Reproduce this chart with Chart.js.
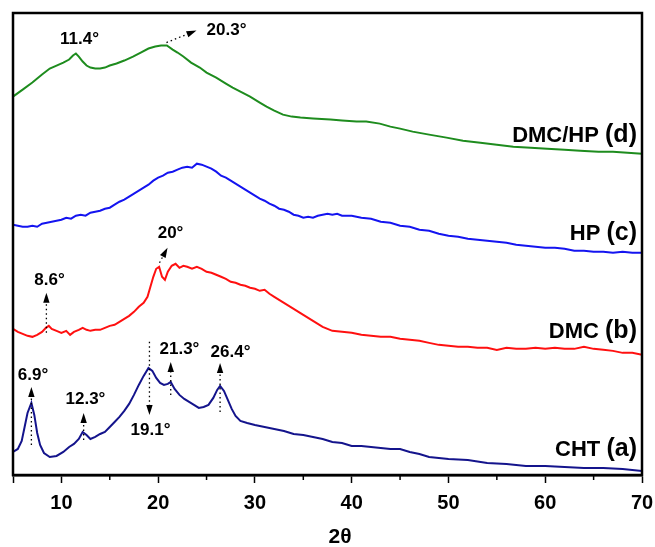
<!DOCTYPE html>
<html>
<head>
<meta charset="utf-8">
<script src="https://cdn.jsdelivr.net/npm/chart.js@4.4.0/dist/chart.umd.min.js"></script>
<style>
  html, body { margin: 0; padding: 0; background: #fff; }
  #wrap { width: 655px; height: 547px; }
</style>
</head>
<body>
<div id="wrap"><canvas id="xrd"></canvas></div>
<script>
// 2-theta positions and intensities (a.u., curves offset vertically)
const chtX = [5, 5.5, 5.9, 6.2, 6.5, 6.9, 7.2, 7.5, 7.8, 8.2, 8.8, 9.5, 10.2, 10.8, 11.3, 11.8, 12.2, 12.6, 13, 13.5, 14, 14.5, 15, 15.5, 16, 16.5, 17, 17.5, 18, 18.5, 19, 19.4, 19.8, 20.2, 20.6, 21, 21.3, 21.7, 22.2, 22.7, 23.2, 23.7, 24.2, 24.7, 25.2, 25.7, 26.1, 26.4, 26.8, 27.2, 27.6, 28, 28.5, 29.2, 30, 31, 32, 33, 34, 35, 36, 37, 38, 39, 40, 41, 42, 43, 44, 45, 46, 47, 48, 49, 50, 52, 54, 56, 58, 60, 62, 64, 66, 68, 70]
const chtY = [25, 28, 36, 50, 64, 74, 62, 44, 32, 24, 20, 21, 25, 30, 33, 38, 45, 42, 38, 40, 43, 45, 50, 55, 60, 66, 73, 82, 92, 101, 109, 106, 99, 94, 92, 93, 95, 88, 82, 78, 75, 72, 69, 70, 72, 79, 87, 91, 86, 77, 68, 61, 56, 54, 52, 50, 48, 46, 43, 42, 40, 38, 35, 34, 31, 31, 30, 29, 28, 28, 25, 23, 20, 19, 18, 17, 14, 13, 11, 11, 10, 9, 9, 8, 6]

const dmcX = [5, 5.5, 6, 6.5, 7, 7.5, 8, 8.4, 8.7, 9, 9.5, 10, 10.5, 10.9, 11.3, 11.8, 12.2, 12.6, 13, 13.5, 14, 14.5, 15, 15.5, 16, 16.5, 17, 17.5, 18, 18.5, 18.9, 19.2, 19.5, 19.8, 20.1, 20.4, 20.7, 21, 21.4, 21.8, 22.2, 22.6, 23, 23.5, 24, 24.5, 25, 25.5, 26, 26.5, 27, 27.5, 28, 28.5, 29, 29.5, 30, 30.5, 31, 31.5, 32, 33, 34, 35, 36, 37, 38, 39, 40, 41, 42, 43, 44, 45, 46, 47, 48, 49, 50, 51, 52, 53, 54, 55, 56, 57, 58, 59, 60, 61, 62, 63, 64, 65, 66, 67, 68, 69, 70]
const dmcY = [148, 145, 143, 141, 140, 142, 145, 149, 151, 148, 146, 144, 146, 142, 145, 147, 149, 147, 146, 147, 147, 149, 151, 152, 155, 158, 161, 165, 170, 174, 180, 190, 200, 208, 210, 200, 197, 205, 211, 213, 209, 211, 210, 208, 210, 208, 205, 204, 202, 200, 198, 195, 194, 192, 191, 189, 188, 186, 187, 183, 180, 174, 168, 162, 156, 150, 146, 145, 144, 142, 141, 140, 140, 138, 137, 136, 134, 132, 131, 130, 130, 129, 129, 127, 129, 128, 128, 129, 128, 129, 128, 128, 130, 128, 127, 126, 124, 124, 122]

const hpX = [5, 5.5, 6, 6.5, 7, 7.5, 8, 8.5, 9, 9.5, 10, 10.5, 11, 11.5, 12, 12.5, 13, 13.5, 14, 14.5, 15, 15.5, 16, 16.5, 17, 17.5, 18, 18.5, 19, 19.5, 20, 20.5, 21, 21.5, 22, 22.5, 23, 23.5, 24, 24.5, 25, 25.5, 26, 26.5, 27, 27.5, 28, 28.5, 29, 29.5, 30, 30.5, 31, 31.5, 32, 32.5, 33, 33.5, 34, 34.5, 35, 35.5, 36, 36.5, 37, 37.5, 38, 38.5, 39, 40, 41, 42, 43, 44, 45, 46, 47, 48, 49, 50, 51, 52, 53, 54, 55, 56, 57, 58, 59, 60, 61, 62, 63, 64, 65, 66, 67, 68, 69, 70]
const hpY = [252, 251, 250, 250, 251, 250, 253, 254, 255, 256, 257, 259, 258, 261, 262, 261, 264, 265, 266, 268, 269, 272, 275, 277, 280, 283, 286, 289, 292, 296, 299, 301, 304, 305, 307, 309, 310, 309, 313, 312, 310, 308, 305, 301, 299, 296, 293, 290, 287, 284, 281, 278, 276, 273, 271, 268, 267, 265, 262, 261, 259, 260, 259, 261, 262, 263, 262, 263, 261, 261, 259, 258, 255, 254, 251, 250, 247, 246, 243, 241, 240, 238, 237, 236, 235, 234, 232, 231, 230, 229, 229, 228, 226, 226, 225, 225, 224, 225, 224, 224]

const dmchpX = [5, 6, 7, 8, 8.8, 9.5, 10.2, 10.8, 11.2, 11.5, 11.8, 12.2, 12.6, 13, 13.5, 14, 14.5, 15, 15.7, 16.5, 17.4, 18.2, 19, 19.7, 20.3, 20.9, 21.5, 22, 22.6, 23.4, 24.3, 25, 26, 27, 27.7, 28.5, 29.5, 30.5, 31.2, 32, 32.9, 33.8, 34.7, 36, 37.8, 39, 40.5, 41.5, 42.9, 44, 45, 46.3, 48, 49.8, 51.5, 53.3, 55, 56.7, 58.5, 60.2, 62, 63.6, 65.5, 67, 68.5, 70]
const dmchpY = [380, 387, 394, 402, 408, 411, 414, 417, 421, 423, 420, 415, 411, 409, 408, 408, 409, 411, 413, 416, 420, 424, 428, 430, 431, 431, 427, 424, 420, 414, 409, 404, 399, 393, 389, 385, 380, 374, 370, 366, 362, 360, 359, 358, 357, 356, 355, 355, 353, 350, 348, 345, 342, 339, 336, 334, 332, 330, 329, 328, 327, 326, 325, 325, 324, 323]

const seriesNames = ['CHT (a)', 'DMC (b)', 'HP (c)', 'DMC/HP (d)']
const seriesColors = ['#14148c', '#ff1010', '#1414f0', '#1e8c1e']
const xTicks = [10, 20, 30, 40, 50, 60, 70]
const minorTicks = [15, 25, 35, 45, 55, 65]

// peak labels: text, text position, arrow from -> tip (all in data units)
const peaks = [
  { text: '6.9°',  tx: 7.07,  ty: 102, from: [6.9, 32],    tip: [6.9, 90] },
  { text: '12.3°', tx: 12.49, ty: 78,  from: [12.3, 37],   tip: [12.3, 64] },
  { text: '19.1°', tx: 19.21, ty: 47,  from: [19.1, 135],  tip: [19.1, 62] },
  { text: '21.3°', tx: 22.2,  ty: 128, from: [21.3, 82],   tip: [21.3, 115] },
  { text: '26.4°', tx: 27.48, ty: 125, from: [26.4, 65],   tip: [26.4, 114] },
  { text: '8.6°',  tx: 8.77,  ty: 196, from: [8.45, 144],  tip: [8.45, 184] },
  { text: '20°',   tx: 21.28, ty: 243, from: [20.14, 214], tip: [20.97, 229] },
  { text: '11.4°', tx: 11.87, ty: 437 },
  { text: '20.3°', tx: 25.0,  ty: 446, from: [20.86, 434], tip: [23.96, 446], left: true }
]

// series name positions (right aligned)
const nameX = 69.48
const nameY = [29, 147, 245, 343]

const FONT = "Arial, 'Liberation Sans', sans-serif"

function pts(xs, ys) {
  return xs.map((x, i) => ({ x: x, y: ys[i] }))
}

const decor = {
  id: 'decor',
  afterDraw(chart) {
    const ctx = chart.ctx
    const a = chart.chartArea
    const sx = chart.scales.x
    const sy = chart.scales.y
    ctx.save()

    // frame
    ctx.strokeStyle = '#000'
    ctx.lineWidth = 2.5
    ctx.strokeRect(a.left, a.top, a.right - a.left, a.bottom - a.top)

    // minor ticks
    ctx.lineWidth = 1.5
    minorTicks.forEach(t => {
      const px = sx.getPixelForValue(t)
      ctx.beginPath()
      ctx.moveTo(px, a.bottom)
      ctx.lineTo(px, a.bottom + 5)
      ctx.stroke()
    })

    // peak arrows
    ctx.fillStyle = '#000'
    peaks.forEach(p => {
      if (p.from) {
        const x0 = sx.getPixelForValue(p.from[0]), y0 = sy.getPixelForValue(p.from[1])
        const x1 = sx.getPixelForValue(p.tip[0]), y1 = sy.getPixelForValue(p.tip[1])
        const ang = Math.atan2(y1 - y0, x1 - x0)
        const hl = 10, hw = 3.2
        const bx = x1 - hl * Math.cos(ang), by = y1 - hl * Math.sin(ang)
        ctx.setLineDash([1.5, 3])
        ctx.lineWidth = 1.3
        ctx.beginPath()
        ctx.moveTo(x0, y0)
        ctx.lineTo(bx, by)
        ctx.stroke()
        ctx.setLineDash([])
        ctx.beginPath()
        ctx.moveTo(x1, y1)
        ctx.lineTo(bx + hw * Math.sin(ang), by - hw * Math.cos(ang))
        ctx.lineTo(bx - hw * Math.sin(ang), by + hw * Math.cos(ang))
        ctx.closePath()
        ctx.fill()
      }
      ctx.font = 'bold 17px ' + FONT
      ctx.textAlign = p.left ? 'left' : 'center'
      ctx.textBaseline = 'middle'
      ctx.fillText(p.text, sx.getPixelForValue(p.tx), sy.getPixelForValue(p.ty))
    })

    // series names, "(x)" a bit larger
    seriesNames.forEach((name, i) => {
      const k = name.lastIndexOf(' ')
      const main = name.slice(0, k + 1)
      const tag = name.slice(k + 1)
      const right = sx.getPixelForValue(nameX)
      const y = sy.getPixelForValue(nameY[i])
      ctx.textBaseline = 'alphabetic'
      ctx.textAlign = 'right'
      ctx.font = 'bold 25px ' + FONT
      ctx.fillText(tag, right, y + 8)
      const w = ctx.measureText(tag).width
      ctx.font = 'bold 22px ' + FONT
      ctx.fillText(main, right - w, y + 8)
    })

    // axis title
    ctx.font = 'bold 21px ' + FONT
    ctx.textAlign = 'center'
    ctx.textBaseline = 'middle'
    ctx.fillText('2θ', sx.getPixelForValue(38.8), 537)

    ctx.restore()
  }
}

const xrdConfig = {
  type: 'line',
  data: {
    datasets: [
      { label: seriesNames[0], data: pts(chtX, chtY), borderColor: seriesColors[0] },
      { label: seriesNames[1], data: pts(dmcX, dmcY), borderColor: seriesColors[1] },
      { label: seriesNames[2], data: pts(hpX, hpY), borderColor: seriesColors[2] },
      { label: seriesNames[3], data: pts(dmchpX, dmchpY), borderColor: seriesColors[3] }
    ]
  },
  options: {
    responsive: false,
    animation: false,
    devicePixelRatio: 1,
    layout: { padding: { left: 13, right: 13, top: 13, bottom: 0 } },
    elements: {
      point: { radius: 0 },
      line: { borderWidth: 2, tension: 0 }
    },
    plugins: {
      legend: { display: false },
      tooltip: { enabled: false }
    },
    scales: {
      x: {
        type: 'linear',
        min: 5,
        max: 70,
        afterFit: s => {
          // fixed axis band so the plot box sits where the original does
          s.height = 72
          s.paddingLeft = 0
          s.paddingRight = 0
        },
        ticks: {
          stepSize: 10,
          autoSkip: false,
          maxRotation: 0,
          padding: 8,
          color: '#000',
          font: { size: 20, weight: 'bold', family: FONT },
          callback: v => (xTicks.includes(v) ? String(v) : '')
        },
        grid: { drawOnChartArea: false, tickLength: 8, tickColor: '#000', tickWidth: 1.5 },
        border: { display: true, color: '#000', width: 2.5 }
      },
      y: {
        display: false,
        min: 2,
        max: 463.5
      }
    }
  },
  plugins: [decor]
}

const cv = document.getElementById('xrd')
cv.width = 655
cv.height = 547
window.xrdChart = new Chart(cv, xrdConfig)
</script>
</body>
</html>
